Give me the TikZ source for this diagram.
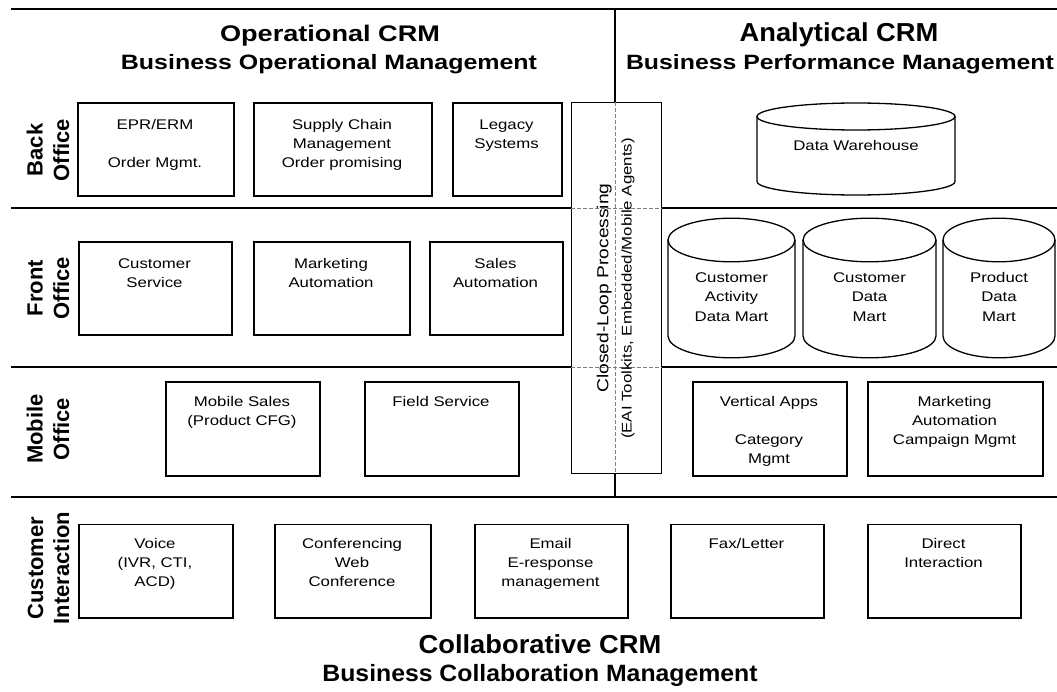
\documentclass[tikz,border=0pt]{standalone}
\usepackage{fontspec}
\setmainfont{Liberation Sans}[FakeStretch=1.2]
\newfontfamily\condf{Liberation Sans}[FakeStretch=1.05]
\newfontfamily\rotf{Liberation Sans}
\newcommand\toprl{\rule{0pt}{12bp}}
\tikzset{
 part/.style={line width=2bp, line cap=rect},
 partdash/.style={draw=gray, line width=0.8bp, dash pattern=on 4bp off 2bp},
 vline/.style={line width=1.5bp},
 box/.style={draw, line width=1.6bp, inner sep=0, anchor=north west},
 btxt/.style={anchor=north, inner sep=0, align=center, font=\fontsize{14bp}{19.2bp}\selectfont},
 cyl/.style={line width=1.3bp},
 hdr/.style={anchor=base, inner sep=0},
 rlab/.style={anchor=base, inner sep=0, rotate=90, font=\rotf\bfseries\fontsize{22bp}{22bp}\selectfont},
 cltxt/.style={anchor=base, inner sep=0, rotate=90},
}
\begin{document}
\begin{tikzpicture}[x=1bp,y=-1bp]
\path[use as bounding box, fill=white] (0,0) rectangle (1057,692);

% closed-loop box
\node[draw, line width=1.4bp, inner sep=0, minimum width=90bp, minimum height=371bp, anchor=north west] (cl) at (571,102) {};

% partition coordinates
\coordinate (t0) at (12,9.5);  \coordinate (t1) at (1057,9.5);
\coordinate (a0) at (12,208);  \coordinate (a1) at (1057,208);
\coordinate (b0) at (12,367);  \coordinate (b1) at (1057,367);
\coordinate (c0) at (12,497);  \coordinate (c1) at (1057,497);
\coordinate (v0) at (615,9.5); \coordinate (v1) at (615,497);

\draw[part] (t0) -- (t1);
\draw[part] (c0) -- (c1);
\draw[part] (a0) -- (a0 -| cl.west);
\draw[part] (a1 -| cl.east) -- (a1);
\draw[part] (b0) -- (b0 -| cl.west);
\draw[part] (b1 -| cl.east) -- (b1);
\draw[partdash] (a0 -| cl.west) -- (a0 -| cl.east);
\draw[partdash] (b0 -| cl.west) -- (b0 -| cl.east);
\draw[vline] (v0) -- (v0 |- cl.north);
\draw[partdash] (v0 |- cl.north) -- (v0 |- cl.south);
\draw[vline] (v0 |- cl.south) -- (v1);

% headers
\node[hdr, font=\bfseries\fontsize{22.6bp}{23bp}\selectfont] (opcrm) at (330,41.5) {Operational CRM};
\node[hdr, font=\bfseries\fontsize{20.8bp}{21bp}\selectfont] (bom) at (329,70) {Business Operational Management};
\node[hdr, font=\condf\bfseries\fontsize{26bp}{26bp}\selectfont] (ancrm) at (839,41.7) {Analytical CRM};
\node[hdr, font=\bfseries\fontsize{20.7bp}{21bp}\selectfont] (bpm) at (840,70) {Business Performance Management};
\node[hdr, font=\condf\bfseries\fontsize{26bp}{26bp}\selectfont] (cocrm) at (540,653) {Collaborative CRM};
\node[hdr, font=\condf\bfseries\fontsize{23.6bp}{24bp}\selectfont] (bcm) at (540,681) {Business Collaboration Management};

% row labels
\node[rlab] (bo1) at (42.5,150) {Back};
\node[rlab] (bo2) at (69,150) {Office};
\node[rlab] (fo1) at (42.5,288) {Front};
\node[rlab] (fo2) at (69,288) {Office};
\node[rlab] (mo1) at (42.5,429) {Mobile};
\node[rlab] (mo2) at (69,429) {Office};
\node[rlab] (ci1) at (43,568) {Customer};
\node[rlab] (ci2) at (69,568) {Interaction};

% closed-loop text
\node[cltxt, font=\fontsize{16bp}{16bp}\selectfont] (clt1) at (608.3,288) {Closed-Loop Processing};
\node[cltxt, font=\fontsize{14bp}{14bp}\selectfont] (clt2) at (631.7,288.5) {(EAI Toolkits, Embedded/Mobile Agents)};

% back office
\node[box, minimum width=156bp, minimum height=93bp] (epr) at (77,102) {};
\node[box, minimum width=178bp, minimum height=93bp] (scm) at (253,102) {};
\node[box, minimum width=109bp, minimum height=93bp] (leg) at (452,102) {};
\node[btxt] (eprt) at (155,117) {\toprl EPR/ERM\\[19.2bp]Order Mgmt.};
\node[btxt] (scmt) at (342,117) {\toprl Supply Chain\\Management\\Order promising};
\node[btxt] (legt) at (506.5,117) {\toprl Legacy\\Systems};

% front office
\node[box, minimum width=153bp, minimum height=93bp] (cs) at (78,241) {};
\node[box, minimum width=156bp, minimum height=93bp] (ma) at (253,241) {};
\node[box, minimum width=133bp, minimum height=93bp] (sa) at (429,241) {};
\node[btxt] (cst) at (154.5,256) {\toprl Customer\\Service};
\node[btxt] (mat) at (331,256) {\toprl Marketing\\Automation};
\node[btxt] (sat) at (495.5,256) {\toprl Sales\\Automation};

% mobile office
\node[box, minimum width=154bp, minimum height=94bp] (ms) at (165,381) {};
\node[box, minimum width=154bp, minimum height=94bp] (fs) at (364,381) {};
\node[box, minimum width=154bp, minimum height=94bp] (va) at (692,381) {};
\node[box, minimum width=175bp, minimum height=94bp] (mac) at (867,381) {};
\node[btxt] (mst) at (242,394) {\toprl Mobile Sales\\(Product CFG)};
\node[btxt] (fst) at (441,394) {\toprl Field Service};
\node[btxt] (vat) at (769,394) {\toprl Vertical Apps\\[19.2bp]Category\\Mgmt};
\node[btxt] (mact) at (954.5,394) {\toprl Marketing\\Automation\\Campaign Mgmt};

% customer interaction
\node[box, minimum width=154bp, minimum height=93.5bp] (vo) at (78,523.5) {};
\node[box, minimum width=156bp, minimum height=93.5bp] (cf) at (274,523.5) {};
\node[box, minimum width=153bp, minimum height=93.5bp] (em) at (474,523.5) {};
\node[box, minimum width=153bp, minimum height=93.5bp] (fx) at (670,523.5) {};
\node[box, minimum width=153bp, minimum height=93.5bp] (di) at (867,523.5) {};
\node[btxt] (vot) at (155,536) {\toprl Voice\\(IVR, CTI,\\ACD)};
\node[btxt] (cft) at (352,536) {\toprl Conferencing\\Web\\Conference};
\node[btxt] (emt) at (550.5,536) {\toprl Email\\E-response\\management};
\node[btxt] (fxt) at (746.5,536) {\toprl Fax/Letter};
\node[btxt] (dit) at (943.5,536) {\toprl Direct\\Interaction};

% cylinders
\draw[cyl] (757,116.5) -- (757,181.5) arc[start angle=180, end angle=0, x radius=99, y radius=13.5] -- (955,116.5);
\draw[cyl] (856,116.5) ellipse [x radius=99, y radius=13.5];
\node[btxt] (dwt) at (856,138.7) {\toprl Data Warehouse};

\draw[cyl] (668,240) -- (668,336) arc[start angle=180, end angle=0, x radius=63.5, y radius=21.8] -- (795,240);
\draw[cyl] (731.5,240) ellipse [x radius=63.5, y radius=21.8];
\draw[cyl] (803,240) -- (803,336) arc[start angle=180, end angle=0, x radius=66.5, y radius=21.8] -- (936,240);
\draw[cyl] (869.5,240) ellipse [x radius=66.5, y radius=21.8];
\draw[cyl] (943,240) -- (943,336) arc[start angle=180, end angle=0, x radius=56, y radius=21.8] -- (1055,240);
\draw[cyl] (999,240) ellipse [x radius=56, y radius=21.8];
\node[btxt] (cat) at (731.5,270.5) {\toprl Customer\\Activity\\Data Mart};
\node[btxt] (cdt) at (869.5,270.5) {\toprl Customer\\Data\\Mart};
\node[btxt] (pdt) at (999,270.5) {\toprl Product\\Data\\Mart};
\end{tikzpicture}
\end{document}
